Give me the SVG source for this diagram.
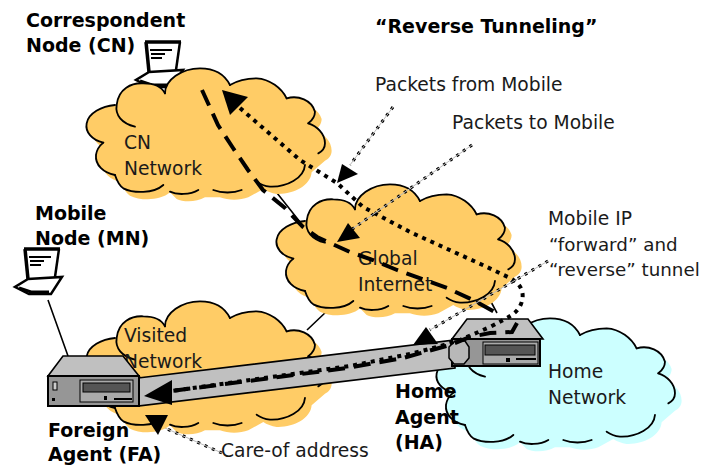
<svg xmlns="http://www.w3.org/2000/svg" width="703" height="466" viewBox="0 0 703 466">
<style>
text{font-family:"DejaVu Sans","Noto Sans",sans-serif;font-size:18.7px;fill:#1a1a1a}
.b{font-weight:700;font-size:19px;fill:#000}
.t{font-size:18.3px}
.arc{fill:none;stroke:#000;stroke-width:5.5;stroke-linecap:round}
.thin{fill:none;stroke:#000;stroke-width:1.6}
.dash{fill:none;stroke:#000;stroke-width:4;stroke-dasharray:17 9}
.dot{fill:none;stroke:#000;stroke-width:4;stroke-dasharray:4 5}
.lead{fill:none;stroke:#000;stroke-width:3;stroke-dasharray:3 5}
.leadb{fill:none;stroke:#bbb;stroke-width:1}
</style>
<defs>
<path id="cf" d="M350 315C355 265 395 248 430 250C460 250 485 260 495 280C495 240 545 205 600 205C645 205 675 225 690 255C715 240 745 235 770 235C810 237 845 265 860 295C895 285 935 300 945 335C945 350 935 362 925 370C950 378 975 400 975 430C975 445 965 455 955 460L915 495C912 535 860 562 810 560C795 558 780 552 770 545L725 570C700 580 665 580 640 570L595 570C570 585 530 585 510 575L490 555C460 582 400 580 370 565C355 555 350 540 345 525C310 518 285 495 288 465C290 450 300 436 310 428C275 420 255 395 260 370C265 340 305 318 345 315Z"/>
<g id="ca" class="arc">
<path d="M405 380C365 370 345 345 350 315C355 265 395 248 430 250C460 250 485 260 495 280"/>
<path d="M495 280C495 240 545 205 600 205C645 205 675 225 690 255"/>
<path d="M690 255C715 240 745 235 770 235C810 237 845 265 860 295"/>
<path d="M860 295C895 285 935 300 945 335C945 350 935 362 925 370"/>
<path d="M925 370C950 378 975 400 975 430C975 445 965 455 955 460"/>
<path d="M915 495C912 535 860 562 810 560C795 558 780 552 770 545"/>
<path d="M725 570C700 580 665 580 640 570"/>
<path d="M595 570C570 585 530 585 510 575"/>
<path d="M490 555C460 582 400 580 370 565C355 555 350 540 345 525"/>
<path d="M345 525C310 518 285 495 288 465C290 450 300 436 310 428"/>
<path d="M310 428C275 420 255 395 260 370C265 340 305 318 345 315"/>
</g>
<g id="lap">
<path d="M145 41H180L176 72H149Z" fill="#fff"/>
<path d="M145 42H181" stroke="#000" stroke-width="3.5" fill="none"/>
<path d="M146 42L149 72" stroke="#000" stroke-width="3.5" fill="none"/>
<path d="M180 42L176 70" stroke="#000" stroke-width="2.5" fill="none"/>
<path d="M150 50H172M151 54H165M151 58H162" stroke="#000" stroke-width="2" fill="none"/>
<path d="M149 72L136 80L150 87H172L183 70Z" fill="#fff" stroke="#000" stroke-width="2.5"/>
<path d="M140 81L152 85H170" stroke="#000" stroke-width="3" fill="none"/>
</g>
</defs>

<use href="#lap"/>
<use href="#lap" x="-121" y="207"/>

<g id="connectors-back">
<path class="thin" d="M277 193L300 222M48 300L68 356M307 330L327 311M490 300L497 313"/>
</g>

<g id="cn-cloud" transform="scale(.3333)"><use href="#cf" fill="#FFCC66" transform="translate(20 22)"/><use href="#cf" fill="#FFCC66"/><use href="#ca"/></g>
<g id="visited-cloud" transform="translate(0 233) scale(.3333)"><use href="#cf" fill="#FFCC66" transform="translate(20 22)"/><use href="#cf" fill="#FFCC66"/><use href="#ca"/></g>
<g id="global-cloud" transform="translate(190 116) scale(.3333)"><use href="#cf" fill="#FFCC66" transform="translate(20 22)"/><use href="#cf" fill="#FFCC66"/><use href="#ca"/></g>
<g id="home-cloud" transform="translate(350 250) scale(.3333)"><use href="#cf" fill="#CCFFFF" transform="translate(20 22)"/><use href="#cf" fill="#CCFFFF"/><use href="#ca"/></g>

<g id="labels">
<text class="b" x="26" y="27">Correspondent</text>
<text class="b" x="26" y="52">Node (CN)</text>
<text class="b" x="375" y="33">“Reverse Tunneling”</text>
<text x="375" y="91">Packets from Mobile</text>
<text x="452" y="129">Packets to Mobile</text>
<text x="124" y="149">CN</text>
<text x="124" y="175">Network</text>
<text class="b" x="35" y="220">Mobile</text>
<text class="b" x="35" y="245">Node (MN)</text>
<text x="548" y="225">Mobile IP</text>
<text class="t" x="549" y="251">“forward” and</text>
<text class="t" x="549" y="276">“reverse” tunnel</text>
<text x="358" y="265">Global</text>
<text x="358" y="291">Internet</text>
<text x="124" y="342">Visited</text>
<text x="124" y="368">Network</text>
<text x="548" y="378">Home</text>
<text x="548" y="404">Network</text>
<text class="b" x="395" y="398">Home</text>
<text class="b" x="395" y="424">Agent</text>
<text class="b" x="395" y="449">(HA)</text>
<text class="b" x="48" y="437">Foreign</text>
<text class="b" x="48" y="461">Agent (FA)</text>
<text x="221" y="457">Care-of address</text>
</g>

<g id="tunnel"><path d="M138 378L455 340L455 368L138 406Z" fill="#C0C0C0" stroke="#000" stroke-width="1.6"/></g>

<g id="foreign-agent">
<path d="M63 356H123L139 376H48Z" fill="#C0C0C0" stroke="#000" stroke-width="1.6"/>
<rect x="48" y="376" width="91" height="30" fill="#969696" stroke="#000" stroke-width="2"/>
<rect x="80" y="380" width="53" height="22" fill="#aaa" stroke="#000"/>
<rect x="83" y="383" width="47" height="9" fill="#555" stroke="#000"/>
<rect x="53" y="382" width="4" height="8" fill="#ccc" stroke="#000"/>
<rect x="52" y="398" width="3" height="3" fill="#000"/>
<path d="M114 399H132" stroke="#000" stroke-width="2"/>
<rect x="104" y="396" width="3" height="4" fill="#000"/>
</g>
<g id="home-agent">
<path d="M467 319H528L543 339H452Z" fill="#C0C0C0" stroke="#000" stroke-width="1.6"/>
<rect x="452" y="339" width="88" height="27" fill="#969696" stroke="#000" stroke-width="2"/>
<rect x="483" y="342" width="55" height="22" fill="#aaa" stroke="#000"/>
<rect x="485" y="345" width="50" height="10" fill="#555" stroke="#000"/>
<path d="M516 359H536" stroke="#000" stroke-width="2"/>
<rect x="506" y="358" width="4" height="4" fill="#000"/>
<path d="M455 341H465L469 347V358L464 364H454L449 358V347Z" fill="#B8B8B8" stroke="#000" stroke-width="1.5"/>
</g>

<g id="connectors">
<path class="dash" d="M202 90L218 125L233 148L248 170L263 190L285 208L303 227L317 237L350 252L373 260L397 270L447 288L473 300L500 315"/>
<path class="dash" d="M517 323L512 332L490 333L470 337L450 345L403 358L347 368L172 391"/>
<path class="dot" d="M240 108L300 160L337 183L363 207L410 232L487 267L510 278C522 284 525 294 521 304C517 314 507 318 490 327L460 340L437 347L410 354L350 366L172 391"/>
<path class="lead" d="M393 107L350 165"/><path class="leadb" d="M393 107L350 165"/>
<path class="lead" d="M472 145L348 232"/><path class="leadb" d="M472 145L348 232"/>
<path class="lead" d="M548 261L430 330"/><path class="leadb" d="M548 261L430 330"/>
<path class="lead" d="M222 453L165 428"/><path class="leadb" d="M222 453L165 428"/>
<path d="M222 90L248 97L230 115Z"/>
<path d="M144 396L172 380V405Z"/>
<path d="M337 183L342 164L358 174Z"/>
<path d="M337 242L348 223L360 238Z"/>
<path d="M426 327L413 345L438 344Z"/>
<path d="M145 415H168L158 435Z"/>
</g>
</svg>
